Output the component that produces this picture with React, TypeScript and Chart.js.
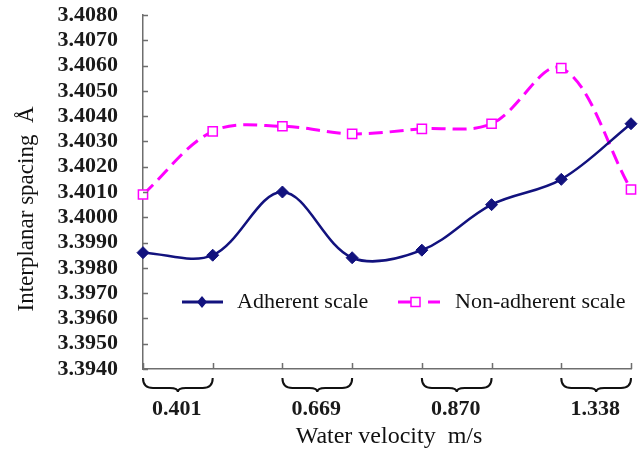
import React, { useEffect, useRef } from "react";
import { Chart, registerables } from "chart.js";

Chart.register(...registerables);

// Eight samples, measured in pairs at four water velocities
const samples = ["1", "2", "3", "4", "5", "6", "7", "8"];
const velocities = ["0.401", "0.669", "0.870", "1.338"];
const adherent = [3.3986, 3.3985, 3.401, 3.3984, 3.3987, 3.4005, 3.4015, 3.4037];
const nonAdherent = [3.4009, 3.4034, 3.4036, 3.4033, 3.4035, 3.4037, 3.4059, 3.4011];
const yMin = 3.394;
const yMax = 3.408;
const yStep = 0.001;

const SERIF = "'Liberation Serif', 'Times New Roman', serif";
const NAVY = "#12127e";
const MAGENTA = "#ff00ff";
const AXIS = "#6e6e6e";

const decorations = {
  id: "decorations",
  afterDraw(chart: any) {
    const { ctx, chartArea, scales } = chart;
    const x = scales.x;
    const y = scales.y;
    ctx.save();

    // inward tick marks
    ctx.strokeStyle = AXIS;
    ctx.lineWidth = 1.5;
    ctx.beginPath();
    y.ticks.forEach((t: any) => {
      const py = Math.round(y.getPixelForValue(t.value)) + 0.5;
      ctx.moveTo(chartArea.left, py);
      ctx.lineTo(chartArea.left + 5, py);
    });
    samples.forEach((_, i) => {
      const px = Math.round(x.getPixelForValue(i)) + 0.5;
      ctx.moveTo(px, chartArea.bottom);
      ctx.lineTo(px, chartArea.bottom - 6);
    });
    ctx.stroke();

    // braces grouping each pair of samples, with the velocity below
    ctx.strokeStyle = "#111";
    ctx.lineWidth = 2;
    const top = chartArea.bottom + 9;
    const mid = top + 10;
    const tip = top + 14;
    velocities.forEach((v, k) => {
      const x0 = x.getPixelForValue(2 * k);
      const x1 = x.getPixelForValue(2 * k + 1);
      const cx = (x0 + x1) / 2;
      ctx.beginPath();
      ctx.moveTo(x0, top);
      ctx.quadraticCurveTo(x0, mid, x0 + 10, mid);
      ctx.lineTo(cx - 8, mid);
      ctx.quadraticCurveTo(cx, mid, cx, tip);
      ctx.quadraticCurveTo(cx, mid, cx + 8, mid);
      ctx.lineTo(x1 - 10, mid);
      ctx.quadraticCurveTo(x1, mid, x1, top);
      ctx.stroke();

      ctx.fillStyle = "#1a1a1a";
      ctx.font = `bold 22px ${SERIF}`;
      ctx.textAlign = "center";
      ctx.textBaseline = "middle";
      ctx.fillText(v, cx - 1, chartArea.bottom + 40);
    });

    // axis titles
    ctx.fillStyle = "#111";
    ctx.font = `24px ${SERIF}`;
    ctx.textAlign = "center";
    ctx.textBaseline = "middle";
    ctx.fillText("Water velocity  m/s", (chartArea.left + chartArea.right) / 2 + 2, chartArea.bottom + 68);

    ctx.save();
    ctx.translate(27, 209);
    ctx.rotate(-Math.PI / 2);
    ctx.font = `23px ${SERIF}`;
    ctx.fillText("Interplanar spacing  Å", 0, 0);
    ctx.restore();

    // legend
    const ly = 302;
    ctx.font = `22px ${SERIF}`;
    ctx.textAlign = "left";
    ctx.fillStyle = "#111";

    ctx.strokeStyle = NAVY;
    ctx.lineWidth = 3;
    ctx.beginPath();
    ctx.moveTo(182, ly);
    ctx.lineTo(223, ly);
    ctx.stroke();
    ctx.fillStyle = NAVY;
    ctx.beginPath();
    ctx.moveTo(202, ly - 6);
    ctx.lineTo(207, ly);
    ctx.lineTo(202, ly + 6);
    ctx.lineTo(197, ly);
    ctx.closePath();
    ctx.fill();
    ctx.fillStyle = "#111";
    ctx.fillText("Adherent scale", 237, ly);

    ctx.strokeStyle = MAGENTA;
    ctx.lineWidth = 3;
    ctx.beginPath();
    ctx.moveTo(398, ly);
    ctx.lineTo(412, ly);
    ctx.moveTo(428, ly);
    ctx.lineTo(440, ly);
    ctx.stroke();
    ctx.fillStyle = "#fff";
    ctx.lineWidth = 1.5;
    ctx.fillRect(411, ly - 4.5, 9, 9);
    ctx.strokeRect(411, ly - 4.5, 9, 9);
    ctx.fillStyle = "#111";
    ctx.fillText("Non-adherent scale", 455, ly);

    ctx.restore();
  },
};

export default function App() {
  const canvasRef = useRef<HTMLCanvasElement | null>(null);

  useEffect(() => {
    document.body.style.margin = "0";
    const canvas = canvasRef.current;
    if (!canvas) return;
    const chart = new Chart(canvas, {
      type: "line",
      data: {
        labels: samples,
        datasets: [
          {
            label: "Adherent scale",
            data: adherent,
            borderColor: NAVY,
            backgroundColor: NAVY,
            borderWidth: 2.5,
            tension: 0.35,
            pointStyle: "rectRot",
            pointRadius: 6,
            pointBorderWidth: 1,
            pointBackgroundColor: NAVY,
            pointBorderColor: NAVY,
          },
          {
            label: "Non-adherent scale",
            data: nonAdherent,
            borderColor: MAGENTA,
            backgroundColor: "#ffffff",
            borderWidth: 3,
            borderDash: [14, 7],
            tension: 0.35,
            pointStyle: "rect",
            pointRadius: 6.5,
            pointBorderWidth: 1.5,
            pointBackgroundColor: "#ffffff",
            pointBorderColor: MAGENTA,
          },
        ],
      },
      options: {
        responsive: false,
        animation: false,
        layout: { padding: { top: 15, right: 12, left: 0, bottom: 0 } },
        plugins: { legend: { display: false }, tooltip: { enabled: false } },
        scales: {
          x: {
            type: "category",
            offset: false,
            grid: { display: false, drawTicks: false },
            border: { display: true, color: AXIS, width: 1.5 },
            ticks: { display: false },
            afterFit: (s: any) => {
              s.height = 85;
              s.paddingLeft = 0;
              s.paddingRight = 0;
            },
          },
          y: {
            min: yMin,
            max: yMax,
            grid: { display: false, drawTicks: false },
            border: { display: true, color: AXIS, width: 1.5 },
            ticks: {
              stepSize: yStep,
              autoSkip: false,
              padding: 25,
              color: "#1a1a1a",
              font: { family: SERIF, size: 22, weight: "bold" },
              callback: (v: any) => Number(v).toFixed(4),
            },
            afterFit: (s: any) => {
              s.width = 143;
              s.paddingTop = 0;
              s.paddingBottom = 0;
            },
          },
        },
      },
      plugins: [decorations],
    });
    return () => chart.destroy();
  }, []);

  return (
    <div style={{ width: 643, height: 454, background: "#fff" }}>
      <canvas ref={canvasRef} width={643} height={454} style={{ display: "block" }} />
    </div>
  );
}
